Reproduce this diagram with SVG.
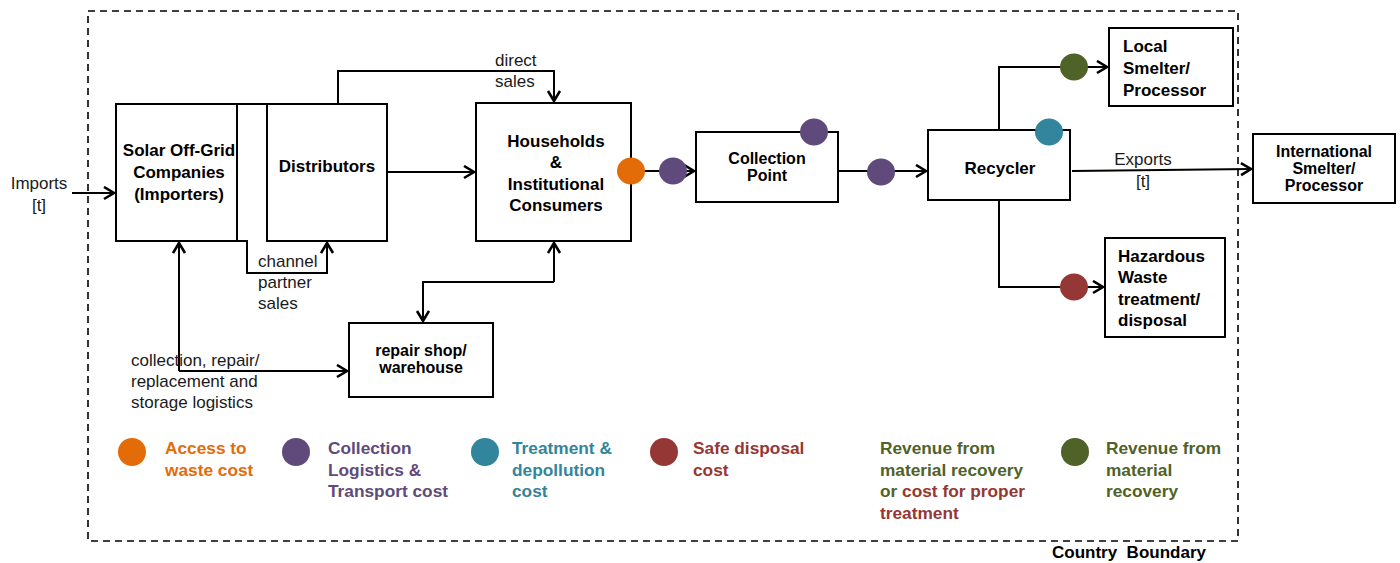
<svg xmlns="http://www.w3.org/2000/svg" width="1400" height="563" viewBox="0 0 1400 563">
  <style>
    .box { fill: #ffffff; stroke: #000000; stroke-width: 2; }
    .line { fill: none; stroke: #000000; stroke-width: 2; }
    .arr { marker-end: url(#chev); }
    .node { font-family: "Liberation Sans", Arial, sans-serif; font-weight: bold; font-size: 17px; fill: #000000; }
    .tight { font-size: 16px; }
    .lbl { font-family: "Liberation Sans", Arial, sans-serif; font-size: 17px; fill: #1a1a1a; }
    .leg { font-family: "Liberation Sans", Arial, sans-serif; font-weight: bold; font-size: 17.3px; }
    .orange { fill: #E36C09; }
    .purple { fill: #604A7B; }
    .teal { fill: #31859C; }
    .red { fill: #953735; }
    .green { fill: #4F6228; }
  </style>
  <defs>
    <marker id="chev" markerUnits="userSpaceOnUse" markerWidth="14" markerHeight="16" refX="11" refY="7" orient="auto">
      <path d="M1,1 L11,7 L1,13" fill="none" stroke="#000000" stroke-width="2.6"/>
    </marker>
  </defs>

  <rect width="1400" height="563" fill="#ffffff"/>

  <!-- country boundary -->
  <g id="boundary">
    <rect x="88" y="11" width="1150" height="530" fill="none" stroke="#000000" stroke-width="1.6" stroke-dasharray="7,5"/>
    <text x="1052" y="558" class="node" xml:space="preserve">Country  Boundary</text>
  </g>

  <!-- connectors -->
  <g id="connectors">
    <path class="line arr" d="M72,193 L114,193"/>
    <path class="line arr" d="M338,104 L338,71 L554,71 L554,101"/>
    <path class="line arr" d="M387,172 L474,172"/>
    <path class="line arr" d="M228,241 L247,241 L247,273 L327,273 L327,243"/>
    <path class="line arr" d="M179,371 L179,243"/>
    <path class="line arr" d="M179,371 L347,371"/>
    <path class="line arr" d="M554,282 L554,243"/>
    <path class="line arr" d="M554,282 L423,282 L423,321"/>
    <path class="line arr" d="M631,171 L694,171"/>
    <path class="line arr" d="M838,171 L926,171"/>
    <path class="line arr" d="M999,130 L999,67 L1107,67"/>
    <path class="line arr" d="M999,200 L999,287 L1103,287"/>
    <path class="line arr" d="M1072,171 L1251,169"/>
  </g>

  <!-- connector labels -->
  <g id="labels">
    <text class="lbl" x="39" y="189" text-anchor="middle">Imports</text>
    <text class="lbl" x="39" y="211" text-anchor="middle">[t]</text>
    <text class="lbl" x="495" y="66">direct</text>
    <text class="lbl" x="495" y="87">sales</text>
    <text class="lbl" x="258" y="267">channel</text>
    <text class="lbl" x="258" y="288">partner</text>
    <text class="lbl" x="258" y="309">sales</text>
    <text class="lbl" x="131" y="366">collection, repair/</text>
    <text class="lbl" x="131" y="387">replacement and</text>
    <text class="lbl" x="131" y="408">storage logistics</text>
    <text class="lbl" x="1143" y="165" text-anchor="middle">Exports</text>
    <text class="lbl" x="1143" y="187" text-anchor="middle">[t]</text>
  </g>

  <!-- nodes -->
  <g id="solar">
    <rect class="box" x="116" y="104" width="121" height="137"/>
    <text class="node" x="179" y="156" text-anchor="middle">Solar Off-Grid</text>
    <text class="node" x="179" y="178" text-anchor="middle">Companies</text>
    <text class="node" x="179" y="200" text-anchor="middle">(Importers)</text>
  </g>
  <g id="distributors">
    <rect class="box" x="267" y="104" width="120" height="137"/>
    <text class="node" x="327" y="172" text-anchor="middle">Distributors</text>
  </g>
  <!-- direct-sales line runs along the tops of both boxes -->
  <path class="line" d="M201,104 L338,104"/>
  <g id="households">
    <rect class="box" x="476" y="103" width="155" height="138"/>
    <text class="node" x="556" y="147" text-anchor="middle">Households</text>
    <text class="node" x="556" y="168" text-anchor="middle">&amp;</text>
    <text class="node" x="556" y="190" text-anchor="middle">Institutional</text>
    <text class="node" x="556" y="211" text-anchor="middle">Consumers</text>
  </g>
  <g id="repair">
    <rect class="box" x="349" y="323" width="144" height="74"/>
    <text class="node tight" x="421" y="356" text-anchor="middle">repair shop/</text>
    <text class="node tight" x="421" y="373" text-anchor="middle">warehouse</text>
  </g>
  <g id="collection-point">
    <rect class="box" x="696" y="132" width="142" height="70"/>
    <text class="node tight" x="767" y="164" text-anchor="middle">Collection</text>
    <text class="node tight" x="767" y="181" text-anchor="middle">Point</text>
  </g>
  <g id="recycler">
    <rect class="box" x="928" y="130" width="142" height="70"/>
    <text class="node" x="1000" y="174" text-anchor="middle">Recycler</text>
  </g>
  <g id="local-smelter">
    <rect class="box" x="1109" y="28" width="124" height="78"/>
    <text class="node" x="1123" y="52">Local</text>
    <text class="node" x="1123" y="74">Smelter/</text>
    <text class="node" x="1123" y="96">Processor</text>
  </g>
  <g id="hazardous">
    <rect class="box" x="1105" y="238" width="120" height="99"/>
    <text class="node" x="1118" y="262">Hazardous</text>
    <text class="node" x="1118" y="283">Waste</text>
    <text class="node" x="1118" y="305">treatment/</text>
    <text class="node" x="1118" y="326">disposal</text>
  </g>
  <g id="international">
    <rect class="box" x="1253" y="134" width="142" height="69"/>
    <text class="node tight" x="1324" y="157" text-anchor="middle">International</text>
    <text class="node tight" x="1324" y="174" text-anchor="middle">Smelter/</text>
    <text class="node tight" x="1324" y="191" text-anchor="middle">Processor</text>
  </g>

  <!-- cost markers on flows -->
  <g id="markers">
    <ellipse class="orange" cx="631" cy="171" rx="14" ry="13.5"/>
    <ellipse class="purple" cx="673" cy="171" rx="14" ry="13.5"/>
    <ellipse class="purple" cx="814" cy="132" rx="14" ry="13.5"/>
    <ellipse class="purple" cx="881" cy="172" rx="14" ry="13.5"/>
    <ellipse class="teal" cx="1049" cy="132" rx="14" ry="13.5"/>
    <ellipse class="green" cx="1074" cy="67" rx="14" ry="13.5"/>
    <ellipse class="red" cx="1074" cy="287" rx="14" ry="13.5"/>
  </g>

  <!-- legend -->
  <g id="legend">
    <ellipse class="orange" cx="132" cy="452" rx="14" ry="14"/>
    <text class="leg orange" x="165" y="454">Access to</text>
    <text class="leg orange" x="165" y="476">waste cost</text>

    <ellipse class="purple" cx="296" cy="452" rx="14" ry="14"/>
    <text class="leg purple" x="328" y="454">Collection</text>
    <text class="leg purple" x="328" y="476">Logistics &amp;</text>
    <text class="leg purple" x="328" y="497">Transport cost</text>

    <ellipse class="teal" cx="485" cy="452" rx="14" ry="14"/>
    <text class="leg teal" x="512" y="454">Treatment &amp;</text>
    <text class="leg teal" x="512" y="476">depollution</text>
    <text class="leg teal" x="512" y="497">cost</text>

    <ellipse class="red" cx="664" cy="452" rx="14" ry="14"/>
    <text class="leg red" x="693" y="454">Safe disposal</text>
    <text class="leg red" x="693" y="476">cost</text>

    <text class="leg green" x="880" y="454">Revenue from</text>
    <text class="leg green" x="880" y="476">material recovery</text>
    <text class="leg" x="880" y="497"><tspan class="green">or </tspan><tspan class="red">cost for proper</tspan></text>
    <text class="leg red" x="880" y="519">treatment</text>

    <ellipse class="green" cx="1075" cy="452" rx="14" ry="14"/>
    <text class="leg green" x="1106" y="454">Revenue from</text>
    <text class="leg green" x="1106" y="476">material</text>
    <text class="leg green" x="1106" y="497">recovery</text>
  </g>
</svg>
